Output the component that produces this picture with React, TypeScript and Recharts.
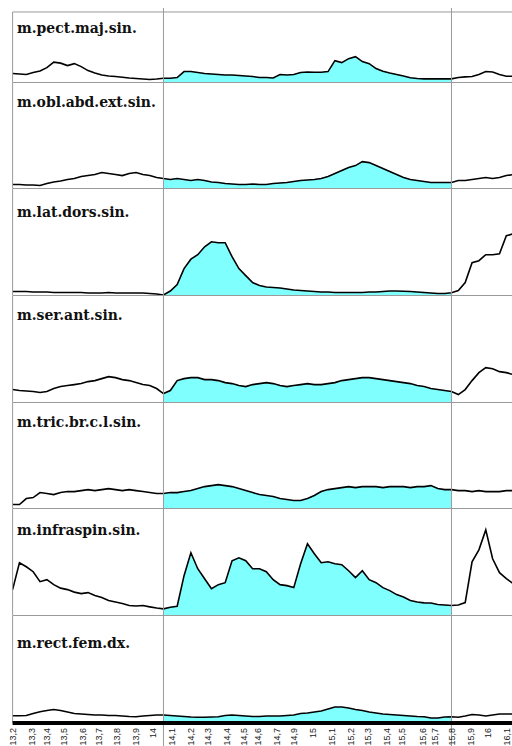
import React from "react";
import { ComposedChart, Area, Line, XAxis, YAxis, ReferenceLine } from "recharts";

// sample times (s)
const TIME = [
  13.2, 13.24, 13.28, 13.32, 13.36, 13.4, 13.44, 13.48, 13.52, 13.56,
  13.6, 13.64, 13.68, 13.72, 13.76, 13.8, 13.84, 13.88, 13.92, 13.96,
  14.0, 14.04, 14.08, 14.12, 14.16, 14.2, 14.24, 14.28, 14.32, 14.36,
  14.4, 14.44, 14.48, 14.52, 14.56, 14.6, 14.64, 14.68, 14.72, 14.76,
  14.8, 14.84, 14.88, 14.92, 14.96, 15.0, 15.04, 15.08, 15.12, 15.16,
  15.2, 15.24, 15.28, 15.32, 15.36, 15.4, 15.44, 15.48, 15.52, 15.56,
  15.6, 15.64, 15.68, 15.72, 15.76, 15.8, 15.84, 15.88, 15.92, 15.96,
  16.0, 16.04, 16.08, 16.12,
];

// marked phase, shaded in every channel
const MARK_START = 14.08;
const MARK_END = 15.76;

const TICK_TIMES = [
  13.2, 13.31, 13.4, 13.5, 13.61, 13.7, 13.81, 13.92, 14.02, 14.13,
  14.24, 14.34, 14.45, 14.55, 14.63, 14.74, 14.84, 14.95, 15.06, 15.17,
  15.27, 15.38, 15.47, 15.59, 15.66, 15.76, 15.87, 15.97, 16.08,
];
const TICK_LABELS = [
  "13,2", "13,3", "13,4", "13,5", "13,6", "13,7", "13,8", "13,9", "14", "14,1",
  "14,2", "14,3", "14,4", "14,5", "14,6", "14,7", "14,9", "15", "15,1", "15,2",
  "15,3", "15,4", "15,5", "15,6", "15,7", "15,8", "15,9", "16", "16,1",
];

const MUSCLES = [
  "m.pect.maj.sin.",
  "m.obl.abd.ext.sin.",
  "m.lat.dors.sin.",
  "m.ser.ant.sin.",
  "m.tric.br.c.l.sin.",
  "m.infraspin.sin.",
  "m.rect.fem.dx.",
];

// rectified EMG envelopes, arbitrary units
const PECT_MAJ = [
  9, 8.5, 8, 10, 11.5, 15, 20.5, 19.5, 17, 19,
  16, 12, 9.5, 7.5, 6.5, 6, 5.3, 4.5, 4, 3.5,
  3, 3.5, 4.3, 4.3, 5, 11, 11, 10, 9, 8.5,
  8, 7.5, 7.5, 7, 6.5, 6, 5, 5, 4.5, 8,
  7.5, 8, 10, 10.5, 10.3, 10.3, 11, 22, 20, 24,
  26, 21, 19, 14, 11.3, 9.5, 8, 6.5, 4.7, 4,
  3.7, 3.7, 3.7, 3.7, 3.7, 5, 5.7, 6, 8, 11,
  10.5, 8, 6.3, 6.3,
];
const OBL_ABD = [
  4, 4, 3.5, 3.5, 3, 5, 6.5, 7.5, 9, 10,
  12, 13, 14, 16, 15, 14, 13, 15, 16, 14,
  13, 11, 10, 9, 10, 9, 8, 9, 8, 6.5,
  6, 5, 4.5, 4, 4, 4.5, 4, 4, 5, 5.5,
  6, 7, 8, 8.5, 9, 10, 12, 15, 18, 21,
  23, 27, 26, 23, 20, 17, 14, 11, 9, 8,
  7, 6, 6, 6, 6, 8, 8, 9, 10, 11,
  10, 11, 13, 14,
];
const LAT_DORS = [
  4, 4, 4, 3.5, 3.5, 3.5, 3, 3, 3, 3,
  3, 2.5, 2.5, 2.5, 3, 2.5, 2.5, 2.5, 2.5, 2.5,
  2, 1.5, 0.5, 4.5, 11, 27, 36.5, 41, 49, 54,
  53, 53, 39, 27, 20, 13, 10, 8.5, 8, 7.5,
  6.5, 5.5, 5, 4.5, 4, 3.5, 3.5, 3, 3, 3,
  3, 3, 3.5, 3.5, 4, 4.5, 4.5, 4.3, 4, 3.5,
  3, 2.5, 2, 2, 2.7, 5, 13, 33, 35, 41,
  41, 42, 60, 62,
];
const SER_ANT = [
  13, 12, 11.5, 11, 10, 11, 14, 16, 17, 18,
  19, 21, 22, 24, 26, 25, 23, 22, 20, 18,
  17, 14, 9, 12, 22, 24, 25, 25, 23, 23,
  22, 20, 19, 17, 16, 18, 19, 20, 19, 17,
  16, 17, 18, 19, 18, 18, 19, 20, 22, 23,
  24, 25, 25, 24, 23, 22, 21, 20, 19, 17,
  16, 14, 13, 12, 11, 8, 13, 22, 30, 35,
  34, 31, 30, 28,
];
const TRIC_BR = [
  4, 4, 10, 11, 16, 15, 14, 16, 17, 17,
  18, 19, 18, 19, 20, 19, 18, 19, 18, 17,
  16, 15, 15, 16, 16, 17, 18, 20, 22, 23,
  24, 23, 22, 20, 18, 16, 14, 13, 12, 10,
  9, 8, 8, 10, 13, 17, 19, 20, 21, 22,
  21, 22, 22, 22, 21, 22, 22, 22, 21, 22,
  22, 23, 20, 19, 19, 18, 18, 17, 18, 17,
  17, 17, 18, 18,
];
const INFRASPIN = [
  26, 53, 49, 44, 34, 36, 31, 27.5, 26, 23.5,
  22, 23, 20, 18, 15, 13.5, 12, 10, 9.5, 10,
  8.7, 7.5, 6.7, 8.3, 9.3, 40, 63, 47, 37, 27,
  31, 33, 55, 58, 55, 47, 47, 44, 36, 31,
  30, 28, 52, 72, 62, 53, 54, 52, 51, 45,
  38, 45, 36, 33, 28, 25, 21, 18.5, 15, 13.5,
  12.7, 12.5, 11, 10.5, 10, 10.5, 13, 54, 66, 86,
  57, 43, 37, 32,
];
const RECT_FEM = [
  5.3, 5.3, 5.5, 7.5, 9.3, 10.5, 11.5, 10.5, 9, 7.5,
  7, 6.5, 6, 6, 5.5, 5.5, 5, 4.5, 4.3, 5,
  5.5, 6, 6, 5.5, 5, 4.5, 4, 3.7, 3.7, 4,
  4.3, 5.5, 6, 5.5, 5, 4.5, 4.5, 5, 5, 5,
  5.5, 6, 7.5, 8, 9, 10, 12, 14, 14, 13,
  11.5, 10.5, 9, 8, 7, 6.5, 6, 5.5, 5, 4.5,
  4.3, 3, 3, 4, 4.3, 3.7, 5, 6.5, 6, 5,
  6, 7, 7, 7,
];

const SIGNALS = [PECT_MAJ, OBL_ABD, LAT_DORS, SER_ANT, TRIC_BR, INFRASPIN, RECT_FEM];

// panel layout
const CHART_W = 520;
const PANEL_H = [75, 106, 107, 107, 106, 107, 130];
const Y_MAX = [75, 106, 107, 107, 106, 107, 105];
const LABEL_BASE = [25, 24, 28, 24, 24, 26, 32];
const T_MIN = 13.2;
const T_MAX = 16.12;

const GRID = "#9a9a9a";
const FILL = "#80ffff";

const TimeTick = (props: any) => {
  const { x, y, payload } = props;
  const i = TICK_TIMES.indexOf(payload.value);
  return (
    <text
      x={0}
      y={0}
      transform={`translate(${x + 3.2},${y + 5}) rotate(-90)`}
      textAnchor="end"
      fontSize={9}
      fill="#222"
      fontFamily="'Liberation Sans', Arial, sans-serif"
    >
      {TICK_LABELS[i]}
    </text>
  );
};

function Panel({ index }: { index: number }) {
  const values = SIGNALS[index];
  const rows = TIME.map((t, i) => ({
    t,
    v: values[i],
    fill: t >= MARK_START && t <= MARK_END ? values[i] : null,
  }));
  const first = index === 0;
  const last = index === SIGNALS.length - 1;
  const h = PANEL_H[index];
  const yMin = last ? -2 : 0;
  const yMax = Y_MAX[index];

  return (
    <div style={{ position: "relative", width: CHART_W, height: h }}>
      <ComposedChart
        width={CHART_W}
        height={h}
        data={rows}
        margin={{ top: 0, right: 6.8, bottom: last ? 0 : 0.5, left: 12.6 }}
      >
        <XAxis
          type="number"
          dataKey="t"
          domain={[T_MIN, T_MAX]}
          hide={!last}
          ticks={TICK_TIMES}
          interval={0}
          height={23}
          tickLine={false}
          tickSize={0}
          tickMargin={0}
          axisLine={{ stroke: "#000", strokeWidth: 4 }}
          tick={<TimeTick />}
        />
        <YAxis type="number" domain={[yMin, yMax]} hide allowDataOverflow />
        <Area
          dataKey="fill"
          type="linear"
          stroke="none"
          fill={FILL}
          fillOpacity={1}
          baseValue={0}
          isAnimationActive={false}
        />
        <Line
          dataKey="v"
          type="linear"
          stroke="#000"
          strokeWidth={1.6}
          dot={false}
          activeDot={false}
          isAnimationActive={false}
        />
        {!last && <ReferenceLine y={0} stroke={GRID} strokeWidth={1} />}
        {first && (
          <ReferenceLine
            segment={[{ x: T_MIN, y: 71 }, { x: T_MAX, y: 71 }]}
            stroke={GRID}
            strokeWidth={1}
          />
        )}
        {first ? (
          <ReferenceLine
            segment={[{ x: T_MIN, y: 0 }, { x: T_MIN, y: 71 }]}
            stroke={GRID}
            strokeWidth={1}
          />
        ) : (
          <ReferenceLine x={T_MIN} stroke={GRID} strokeWidth={1} />
        )}
        {[MARK_START, MARK_END].map((m) =>
          last ? (
            <ReferenceLine
              key={m}
              segment={[{ x: m, y: -25 }, { x: m, y: yMax }]}
              ifOverflow="visible"
              stroke={GRID}
              strokeWidth={1}
            />
          ) : (
            <ReferenceLine key={m} x={m} stroke={GRID} strokeWidth={1} />
          )
        )}
      </ComposedChart>
      <div
        style={{
          position: "absolute",
          left: 17,
          top: LABEL_BASE[index] - 14,
          fontFamily: "'DejaVu Serif Condensed', 'DejaVu Serif', serif",
          fontWeight: 700,
          fontSize: 15.5,
          lineHeight: "18px",
          color: "#111",
          whiteSpace: "nowrap",
        }}
      >
        {MUSCLES[index]}
      </div>
    </div>
  );
}

export default function App() {
  return (
    <div
      style={{
        position: "absolute",
        left: 0,
        top: 0,
        width: 512,
        height: 746,
        overflow: "hidden",
        background: "#fff",
      }}
    >
      <div style={{ paddingTop: 8 }}>
        {SIGNALS.map((_, i) => (
          <Panel key={i} index={i} />
        ))}
      </div>
    </div>
  );
}
